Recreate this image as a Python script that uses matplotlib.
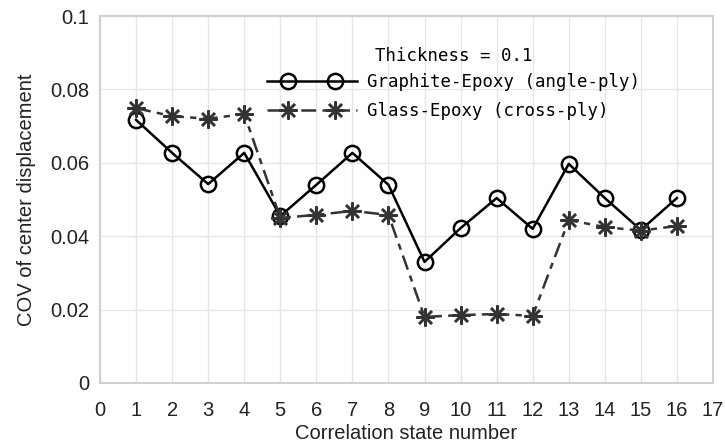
import numpy as np
import matplotlib.pyplot as plt
from matplotlib.legend_handler import HandlerLine2D
from matplotlib.lines import Line2D

# COV of center displacement per correlation state
states = np.arange(1, 17)
graphite_cov = [0.0717, 0.0627, 0.0542, 0.0627, 0.0455, 0.0540, 0.0627, 0.0540,
                0.0330, 0.0422, 0.0504, 0.0420, 0.0597, 0.0504, 0.0417, 0.0504]
glass_cov = [0.0749, 0.0727, 0.0720, 0.0733, 0.0450, 0.0458, 0.0469, 0.0458,
             0.0180, 0.0185, 0.0188, 0.0183, 0.0444, 0.0425, 0.0415, 0.0428]


class InsetMarkerHandler(HandlerLine2D):
    # full-length line in the legend, the two markers set in from the ends
    def create_artists(self, legend, orig_handle, xdescent, ydescent,
                       width, height, fontsize, trans):
        x0, x1 = -xdescent, -xdescent + width
        inset = 0.24 * width
        y = (height - ydescent) / 2
        line = Line2D([x0, x1], [y, y])
        self.update_prop(line, orig_handle, legend)
        line.set_marker('None')
        marks = Line2D([x0 + inset, x1 - inset], [y, y])
        self.update_prop(marks, orig_handle, legend)
        marks.set_linestyle('None')
        line.set_transform(trans)
        marks.set_transform(trans)
        return [line, marks]


plt.rcParams['font.family'] = ['Liberation Sans', 'DejaVu Sans']

fig = plt.figure(figsize=(7.25, 4.46), dpi=100)
ax = fig.add_axes([100/725, 1 - 383/446, 613/725, 367/446])

l1, = ax.plot(states, graphite_cov, color='black', lw=1.8, marker='o', ms=11,
              mfc='none', mew=1.8, label='Graphite-Epoxy (angle-ply)')
l2, = ax.plot(states, glass_cov, color='#333333', lw=1.8, marker=(8, 2, 0), ms=13,
              mew=1.8, dashes=(6, 2.5, 2.5, 2.5), label='Glass-Epoxy (cross-ply)')

ax.set_xlim(0, 17)
ax.set_ylim(0, 0.1)
ax.set_xticks(range(0, 18))
ax.set_yticks([0, 0.02, 0.04, 0.06, 0.08, 0.1])
ax.set_yticklabels(['0', '0.02', '0.04', '0.06', '0.08', '0.1'])
ax.tick_params(labelsize=14.5, length=0, colors='#222222')
ax.tick_params(axis='x', pad=13)
ax.tick_params(axis='y', pad=8)
ax.grid(True, color='#e6e6e6', lw=1)
ax.set_axisbelow(True)
for s in ax.spines.values():
    s.set_color('#d0d0d0')
    s.set_linewidth(1.5)

ax.set_xlabel('Correlation state number', fontsize=14.5, labelpad=3, color='#222222')
ax.set_ylabel('COV of center displacement', fontsize=14.5, labelpad=10, color='#222222')

hmap = {l1: InsetMarkerHandler(), l2: InsetMarkerHandler()}
leg = ax.legend(title='Thickness = 0.1', loc='upper left', bbox_to_anchor=(0.272, 0.916),
                frameon=False, handlelength=5.2, handletextpad=0.6,
                labelspacing=0.65, borderaxespad=0, borderpad=0, handler_map=hmap,
                prop={'family': 'DejaVu Sans Mono', 'size': 12.5})
leg.get_title().set_fontfamily('DejaVu Sans Mono')
leg.get_title().set_fontsize(12.5)
leg._legend_box.sep = 6

fig.savefig('out.png', dpi=100)
